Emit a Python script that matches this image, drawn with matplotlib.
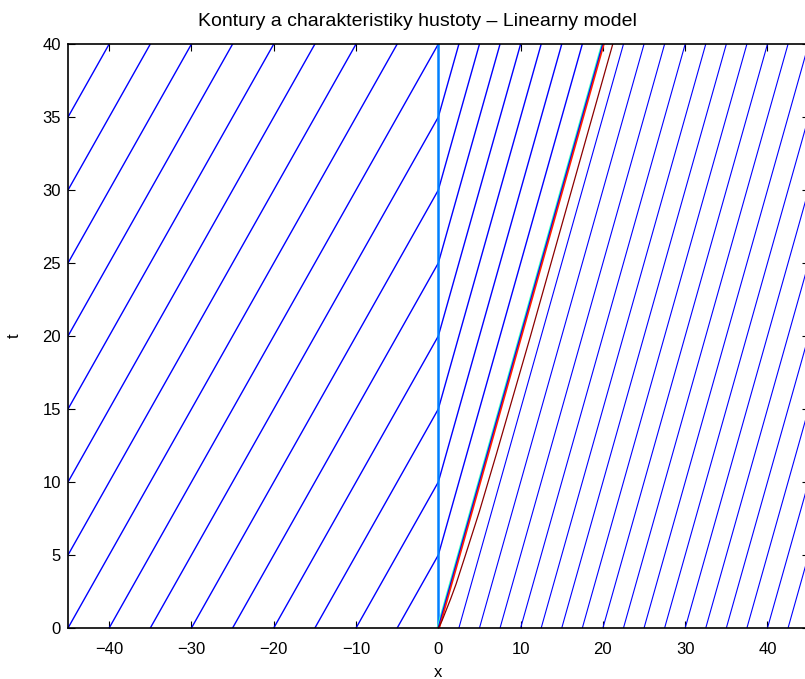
import numpy as np
import matplotlib.pyplot as plt

# font - close to MATLAB helvetica
plt.rcParams['font.family'] = ['Liberation Sans', 'DejaVu Sans']
plt.rcParams['font.size'] = 12

# characteristics: start points on t=0 and speeds
leftStarts = [-85, -80, -75, -70, -65, -60, -55, -50, -45, -40, -35, -30, -25, -20, -15, -10, -5]
rightStarts = [2.5, 5, 7.5, 10, 12.5, 15, 17.5, 20, 22.5, 25, 27.5, 30, 32.5, 35, 37.5, 40, 42.5, 45]
leftSpeed = 1.0
rightSpeed = 0.5
tMax = 40

# density contours along the front x = 0.5 t
frontOffsets = [-0.12, 0.0, 0.12]
frontColors = ['#30ffc0', '#0000ff', '#ff2000']
# dark red contour
curveT = [0, 0.5, 1, 2, 3, 5, 8, 12, 20, 30, 40]
curveX = [0, 0.45, 0.8, 1.5, 2.15, 3.3, 5.0, 7.1, 11.2, 16.2, 21.2]

fig = plt.figure(figsize=(8.05, 6.79), dpi=100)
ax = fig.add_axes([0.0845, 0.0751, 0.92, 0.860])

# left characteristics, bend when they reach x=0
for x0 in leftStarts:
    tHit = -x0 / leftSpeed
    if tHit >= tMax:
        ax.plot([x0, x0 + leftSpeed * tMax], [0, tMax], color='#0000ff', lw=1.0)
    else:
        ax.plot([x0, 0, rightSpeed * (tMax - tHit)], [0, tHit, tMax], color='#0000ff', lw=1.0)

# right characteristics
for x0 in rightStarts:
    ax.plot([x0, x0 + rightSpeed * tMax], [0, tMax], color='#0000ff', lw=0.8)

# contours
ax.plot([0, 0], [0, tMax], color='#0080ff', lw=1.8)
for off, c in zip(frontOffsets, frontColors):
    ax.plot([off, rightSpeed * tMax + off], [0, tMax], color=c, lw=1.2)
ax.plot(curveX, curveT, color='#8b0000', lw=0.9)

ax.set_xlim(-45, 45)
ax.set_ylim(0, 40)
ax.set_xticks(np.arange(-40, 41, 10))
ax.set_yticks(np.arange(0, 41, 5))
ax.tick_params(direction='in', length=5, top=True, right=True)
ax.tick_params(axis='x', pad=10)
ax.tick_params(axis='y', pad=5)
for s in ax.spines.values():
    s.set_linewidth(1.2)
ax.set_title('Kontury a charakteristiky hustoty \u2013 Linearny model', fontsize=14, pad=13, x=0.472)
ax.set_xlabel('x', labelpad=6)
ax.set_ylabel('t', labelpad=15)

fig.savefig('out.png', dpi=100)
